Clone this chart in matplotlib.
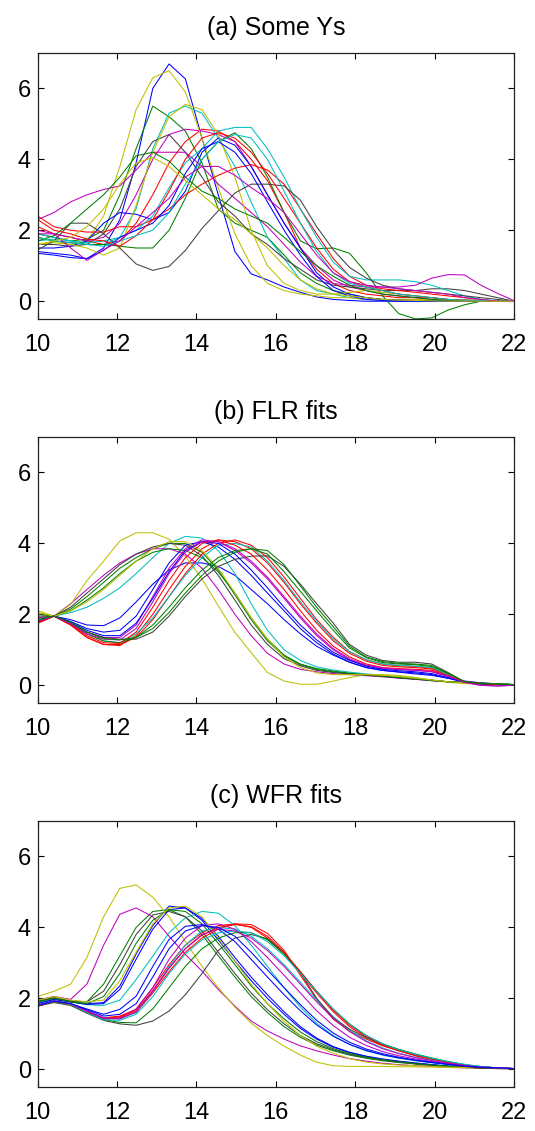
import matplotlib
matplotlib.use("Agg")
import matplotlib.pyplot as plt

plt.rcParams['font.family'] = ['Liberation Sans', 'DejaVu Sans']

# common age grid (30 points between 10 and 22)
ages = [10.0, 10.41, 10.83, 11.24, 11.66, 12.07, 12.48, 12.9, 13.31, 13.72,
        14.14, 14.55, 14.97, 15.38, 15.79, 16.21, 16.62, 17.03, 17.45, 17.86,
        18.28, 18.69, 19.1, 19.52, 19.93, 20.34, 20.76, 21.17, 21.59, 22.0]

titles = ["(a) Some Ys", "(b) FLR fits", "(c) WFR fits"]

# MATLAB-ish colour codes
B, G, R, C, M, Y, K = "#0000ff", "#008000", "#ff0000", "#00bfbf", "#bf00bf", "#bfbf00", "#404040"

# ---- (a) raw curves
a_y1 = [1.8, 1.7, 1.6, 1.7, 2.4, 3.8, 5.4, 6.3, 6.5, 5.9,
        4.6, 3.2, 1.9, 1.0, 0.5, 0.3, 0.2, 0.15, 0.1, 0.1,
        0.05, 0.05, 0.05, 0.05, 0.05, 0.05, 0.03, 0.02, 0.01, 0.0]
a_b1 = [1.4, 1.35, 1.3, 1.2, 1.5, 2.3, 3.9, 6.0, 6.69, 6.27,
        4.6, 3.0, 1.4, 0.77, 0.6, 0.4, 0.25, 0.12, 0.05, 0.02,
        0.0, 0.0, 0.0, 0.0, 0.0, 0.0, 0.0, 0.0, 0.0, 0.0]
a_g1 = [1.9, 1.8, 1.7, 1.75, 2.0, 3.0, 4.3, 5.5, 5.2, 4.8,
        3.9, 2.6, 2.2, 2.0, 1.8, 1.3, 0.8, 0.5, 0.3, 0.2,
        0.1, 0.05, 0.03, 0.02, 0.01, 0.0, 0.0, 0.0, 0.0, 0.0]
a_c1 = [1.7, 1.75, 1.7, 1.6, 1.6, 1.8, 2.6, 4.3, 5.3, 5.5,
        5.3, 4.6, 3.8, 2.8, 1.8, 1.2, 0.6, 0.3, 0.2, 0.1,
        0.05, 0.03, 0.02, 0.01, 0.0, 0.0, 0.0, 0.0, 0.0, 0.0]
a_y2 = [1.6, 1.65, 1.6, 1.5, 1.3, 1.5, 2.7, 4.2, 5.2, 5.55,
        5.4, 4.7, 3.5, 2.0, 1.0, 0.5, 0.3, 0.2, 0.2, 0.25,
        0.3, 0.25, 0.2, 0.15, 0.1, 0.05, 0.03, 0.02, 0.01, 0.0]
a_c2 = [1.9, 1.8, 1.7, 1.65, 1.7, 1.8, 2.0, 2.4, 3.2, 3.9,
        4.3, 4.8, 4.9, 4.9, 4.3, 3.5, 2.6, 1.8, 1.1, 0.7,
        0.6, 0.6, 0.6, 0.55, 0.45, 0.3, 0.15, 0.05, 0.0, 0.0]
a_g2 = [1.8, 1.7, 1.65, 1.6, 1.6, 1.55, 1.5, 1.5, 2.0, 2.9,
        4.0, 4.5, 4.75, 4.3, 3.5, 2.5, 1.7, 1.48, 1.5, 1.35,
        0.8, 0.15, -0.35, -0.5, -0.47, -0.25, -0.1, 0.0, 0.0, 0.0]
a_r1 = [2.1, 1.9, 1.8, 1.7, 1.6, 1.7, 2.2, 3.0, 3.9, 4.5,
        4.85, 4.8, 4.5, 4.0, 3.4, 2.5, 1.5, 0.9, 0.5, 0.3,
        0.2, 0.15, 0.1, 0.1, 0.1, 0.05, 0.02, 0.0, 0.0, 0.0]
a_m1 = [2.0, 1.9, 1.8, 1.7, 1.8, 2.2, 3.0, 4.0, 4.7, 4.85,
        4.8, 4.7, 4.5, 3.8, 3.0, 2.2, 1.5, 1.0, 0.6, 0.4,
        0.3, 0.2, 0.15, 0.1, 0.05, 0.03, 0.02, 0.01, 0.0, 0.0]
a_k1 = [1.6, 1.6, 1.55, 1.6, 1.9, 2.6, 3.8, 4.5, 4.7, 4.2,
        3.5, 2.8, 2.4, 1.9, 1.6, 1.2, 0.9, 0.6, 0.45, 0.4,
        0.35, 0.3, 0.3, 0.3, 0.35, 0.35, 0.3, 0.2, 0.1, 0.0]
a_b2 = [1.5, 1.5, 1.55, 1.7, 2.2, 2.5, 2.45, 2.3, 2.5, 3.1,
        4.2, 4.6, 4.4, 3.8, 3.0, 2.2, 1.5, 0.8, 0.4, 0.2,
        0.1, 0.05, 0.03, 0.02, 0.01, 0.0, 0.0, 0.0, 0.0, 0.0]
a_m2 = [2.3, 2.5, 2.8, 3.0, 3.15, 3.25, 3.7, 4.2, 4.2, 4.2,
        3.8, 3.3, 2.9, 2.5, 2.1, 1.6, 1.1, 0.7, 0.5, 0.45,
        0.4, 0.4, 0.4, 0.45, 0.65, 0.75, 0.74, 0.45, 0.22, 0.02]
a_g3 = [1.7, 1.85, 2.2, 2.6, 3.0, 3.5, 4.1, 4.2, 3.95, 3.5,
        3.1, 2.9, 2.6, 2.4, 2.2, 1.8, 1.4, 1.0, 0.7, 0.45,
        0.3, 0.2, 0.15, 0.1, 0.05, 0.03, 0.02, 0.01, 0.0, 0.0]
a_y3 = [1.6, 1.7, 1.8, 2.1, 2.6, 3.3, 3.9, 4.05, 3.8, 3.4,
        3.0, 2.6, 2.3, 1.9, 1.5, 1.0, 0.6, 0.35, 0.2, 0.15,
        0.1, 0.05, 0.03, 0.02, 0.01, 0.0, 0.0, 0.0, 0.0, 0.0]
a_r2 = [2.4, 2.1, 2.0, 1.95, 1.95, 2.1, 2.1, 2.3, 2.6, 3.0,
        3.3, 3.55, 3.75, 3.85, 3.7, 3.3, 2.6, 1.9, 1.2, 0.7,
        0.45, 0.35, 0.3, 0.25, 0.2, 0.15, 0.1, 0.05, 0.0, 0.0]
a_k2 = [1.45, 1.7, 2.2, 2.2, 1.9, 1.5, 1.05, 0.87, 0.98, 1.43,
        2.05, 2.55, 3.05, 3.3, 3.3, 3.25, 2.85, 2.1, 1.45, 0.95,
        0.65, 0.45, 0.35, 0.3, 0.25, 0.2, 0.15, 0.1, 0.05, 0.0]
a_m3 = [1.9, 1.9, 1.5, 1.15, 1.45, 1.7, 2.1, 2.5, 2.9, 3.5,
        3.8, 3.8, 3.55, 3.2, 2.9, 2.5, 1.9, 1.3, 0.8, 0.55,
        0.45, 0.4, 0.35, 0.3, 0.25, 0.2, 0.1, 0.05, 0.0, 0.0]
a_r3 = [2.3, 2.0, 1.9, 1.75, 1.7, 1.55, 1.85, 2.3, 3.1, 4.0,
        4.6, 4.75, 4.6, 4.2, 3.6, 2.9, 2.2, 1.5, 0.9, 0.55,
        0.4, 0.3, 0.2, 0.15, 0.1, 0.05, 0.03, 0.02, 0.0, 0.0]
a_b3 = [1.35, 1.3, 1.23, 1.2, 1.43, 1.8, 2.0, 2.2, 2.7, 3.6,
        4.3, 4.5, 4.2, 3.6, 2.8, 2.0, 1.3, 0.7, 0.3, 0.15,
        0.05, 0.02, 0.0, 0.0, 0.0, 0.0, 0.0, 0.0, 0.0, 0.0]
a_c3 = [1.8, 1.7, 1.65, 1.6, 1.55, 1.7, 1.85, 2.0, 2.5, 3.3,
        4.0, 4.5, 4.7, 4.6, 4.0, 3.1, 2.2, 1.4, 0.8, 0.5,
        0.4, 0.3, 0.2, 0.15, 0.1, 0.05, 0.03, 0.02, 0.01, 0.0]

# ---- (b) FLR fits
b_y1 = [2.1, 1.95, 2.28, 2.95, 3.5, 4.07, 4.3, 4.3, 4.12, 3.64,
        3.0, 2.24, 1.49, 0.92, 0.36, 0.12, 0.03, 0.03, 0.12, 0.22,
        0.3, 0.3, 0.28, 0.22, 0.15, 0.08, 0.05, 0.04, 0.02, 0.0]
b_y2 = [2.05, 1.95, 2.1, 2.35, 2.7, 3.1, 3.5, 3.85, 4.05, 4.05,
        3.8, 3.3, 2.6, 1.9, 1.3, 0.8, 0.5, 0.35, 0.3, 0.3,
        0.3, 0.28, 0.25, 0.2, 0.15, 0.1, 0.07, 0.05, 0.03, 0.02]
b_m1 = [1.9, 1.95, 2.3, 2.7, 3.1, 3.45, 3.7, 3.85, 3.85, 3.7,
        3.3, 2.7, 2.0, 1.4, 0.9, 0.6, 0.45, 0.38, 0.33, 0.3,
        0.27, 0.24, 0.2, 0.17, 0.13, 0.1, 0.07, 0.05, 0.03, 0.02]
b_k1 = [1.95, 1.95, 2.2, 2.6, 3.0, 3.4, 3.7, 3.9, 4.0, 3.95,
        3.65, 3.1, 2.4, 1.7, 1.15, 0.75, 0.55, 0.42, 0.36, 0.32,
        0.28, 0.25, 0.21, 0.17, 0.13, 0.1, 0.08, 0.06, 0.04, 0.02]
b_g1 = [1.9, 1.95, 2.15, 2.5, 2.9, 3.3, 3.6, 3.85, 4.0, 4.0,
        3.75, 3.25, 2.55, 1.85, 1.25, 0.82, 0.58, 0.45, 0.38, 0.33,
        0.29, 0.26, 0.22, 0.18, 0.14, 0.1, 0.08, 0.06, 0.04, 0.02]
b_g2 = [2.0, 1.95, 2.1, 2.4, 2.75, 3.15, 3.5, 3.75, 3.85, 3.8,
        3.6, 3.2, 2.6, 1.9, 1.3, 0.85, 0.6, 0.47, 0.4, 0.34,
        0.3, 0.26, 0.22, 0.18, 0.14, 0.1, 0.08, 0.06, 0.04, 0.02]
b_c1 = [1.85, 1.95, 2.05, 2.2, 2.45, 2.75, 3.15, 3.6, 4.0, 4.2,
        4.15, 3.8, 3.15, 2.3, 1.55, 1.0, 0.7, 0.52, 0.43, 0.37,
        0.32, 0.28, 0.24, 0.2, 0.15, 0.1, 0.08, 0.06, 0.04, 0.02]
b_b1 = [1.8, 1.95, 1.85, 1.7, 1.68, 1.9, 2.35, 2.85, 3.25, 3.45,
        3.45, 3.35, 3.1, 2.7, 2.3, 1.85, 1.45, 1.1, 0.85, 0.65,
        0.5, 0.42, 0.37, 0.32, 0.28, 0.2, 0.12, 0.07, 0.04, 0.02]
b_b2 = [1.8, 1.95, 1.8, 1.6, 1.5, 1.55, 1.95, 2.7, 3.45, 3.95,
        4.05, 3.9, 3.55, 3.1, 2.6, 2.1, 1.6, 1.2, 0.88, 0.65,
        0.5, 0.42, 0.38, 0.35, 0.3, 0.2, 0.08, 0.04, 0.02, 0.0]
b_b3 = [1.8, 1.95, 1.78, 1.55, 1.4, 1.4, 1.75, 2.45, 3.2, 3.8,
        4.05, 4.0, 3.7, 3.25, 2.75, 2.2, 1.7, 1.28, 0.93, 0.7,
        0.54, 0.45, 0.41, 0.38, 0.33, 0.22, 0.09, 0.04, 0.02, 0.0]
b_m2 = [1.8, 1.95, 1.75, 1.5, 1.35, 1.35, 1.7, 2.5, 3.3, 3.85,
        4.1, 4.05, 3.8, 3.45, 3.0, 2.45, 1.9, 1.4, 1.0, 0.72,
        0.55, 0.47, 0.44, 0.42, 0.38, 0.25, 0.08, 0.0, -0.02, 0.0]
b_m3 = [1.8, 1.95, 1.73, 1.45, 1.3, 1.28, 1.6, 2.35, 3.15, 3.75,
        4.05, 4.05, 3.85, 3.5, 3.05, 2.5, 1.95, 1.45, 1.03, 0.75,
        0.57, 0.49, 0.45, 0.43, 0.39, 0.26, 0.08, 0.0, -0.02, 0.0]
b_r1 = [1.75, 1.95, 1.7, 1.35, 1.15, 1.12, 1.4, 2.0, 2.7, 3.35,
        3.85, 4.1, 4.05, 3.85, 3.45, 2.9, 2.3, 1.75, 1.25, 0.9,
        0.68, 0.56, 0.52, 0.5, 0.46, 0.28, 0.1, 0.05, 0.02, 0.02]
b_r2 = [1.75, 1.95, 1.7, 1.35, 1.15, 1.15, 1.35, 1.85, 2.5, 3.15,
        3.7, 4.0, 4.1, 3.95, 3.6, 3.05, 2.45, 1.85, 1.35, 0.95,
        0.72, 0.6, 0.55, 0.53, 0.48, 0.3, 0.1, 0.05, 0.02, 0.02]
b_r3 = [1.78, 1.95, 1.72, 1.4, 1.2, 1.18, 1.5, 2.2, 2.95, 3.6,
        4.0, 4.1, 3.95, 3.7, 3.25, 2.7, 2.1, 1.55, 1.1, 0.8,
        0.6, 0.5, 0.47, 0.45, 0.42, 0.27, 0.1, 0.05, 0.02, 0.02]
b_c2 = [1.85, 1.95, 1.75, 1.45, 1.25, 1.2, 1.45, 1.9, 2.5, 3.1,
        3.6, 3.95, 4.0, 3.9, 3.5, 2.95, 2.35, 1.8, 1.3, 0.95,
        0.72, 0.6, 0.56, 0.54, 0.5, 0.3, 0.1, 0.05, 0.03, 0.02]
b_g3 = [1.8, 1.95, 1.75, 1.45, 1.25, 1.2, 1.35, 1.7, 2.2, 2.75,
        3.25, 3.6, 3.8, 3.85, 3.7, 3.2, 2.65, 2.1, 1.55, 1.05,
        0.78, 0.64, 0.6, 0.58, 0.53, 0.33, 0.1, 0.05, 0.03, 0.02]
b_g4 = [1.85, 1.95, 1.78, 1.5, 1.32, 1.28, 1.35, 1.6, 2.05, 2.6,
        3.1, 3.5, 3.75, 3.85, 3.8, 3.4, 2.8, 2.2, 1.65, 1.1,
        0.8, 0.67, 0.62, 0.6, 0.56, 0.34, 0.1, 0.05, 0.03, 0.02]
b_k2 = [1.8, 1.95, 1.75, 1.5, 1.35, 1.3, 1.3, 1.5, 1.95, 2.5,
        3.0, 3.35, 3.55, 3.64, 3.65, 3.35, 2.85, 2.3, 1.75, 1.15,
        0.85, 0.7, 0.65, 0.65, 0.6, 0.36, 0.1, 0.05, 0.03, 0.02]

# ---- (c) WFR fits
c_y1 = [2.05, 2.2, 2.4, 3.15, 4.3, 5.1, 5.2, 4.85, 4.3, 3.6,
        2.9, 2.3, 1.75, 1.3, 0.95, 0.65, 0.4, 0.2, 0.1, 0.08,
        0.08, 0.08, 0.07, 0.07, 0.06, 0.05, 0.04, 0.03, 0.02, 0.02]
c_m1 = [1.95, 2.05, 1.97, 2.4, 3.5, 4.37, 4.55, 4.3, 3.75, 3.24,
        2.77, 2.25, 1.78, 1.36, 1.08, 0.85, 0.66, 0.52, 0.4, 0.3,
        0.23, 0.17, 0.13, 0.1, 0.08, 0.06, 0.04, 0.03, 0.02, 0.02]
c_g1 = [1.9, 2.0, 1.92, 1.9, 2.4, 3.2, 4.0, 4.45, 4.5, 4.3,
        3.8, 3.2, 2.6, 2.05, 1.6, 1.2, 0.9, 0.68, 0.52, 0.4,
        0.31, 0.24, 0.19, 0.15, 0.11, 0.08, 0.06, 0.04, 0.03, 0.02]
c_k1 = [1.92, 2.02, 1.93, 1.9, 2.2, 2.95, 3.8, 4.35, 4.45, 4.3,
        3.9, 3.3, 2.7, 2.15, 1.68, 1.28, 0.95, 0.72, 0.55, 0.42,
        0.33, 0.26, 0.2, 0.15, 0.11, 0.08, 0.06, 0.04, 0.03, 0.02]
c_g2 = [1.9, 2.0, 1.9, 1.85, 2.05, 2.7, 3.55, 4.2, 4.5, 4.45,
        4.1, 3.55, 2.95, 2.35, 1.85, 1.42, 1.05, 0.78, 0.58, 0.44,
        0.34, 0.27, 0.21, 0.16, 0.12, 0.09, 0.06, 0.04, 0.03, 0.02]
c_y2 = [1.95, 2.05, 1.95, 1.9, 1.95, 2.5, 3.3, 4.1, 4.55, 4.6,
        4.3, 3.7, 3.05, 2.4, 1.85, 1.35, 0.95, 0.65, 0.45, 0.3,
        0.2, 0.15, 0.12, 0.1, 0.08, 0.06, 0.05, 0.04, 0.03, 0.02]
c_b1 = [1.85, 1.97, 1.9, 1.85, 1.88, 2.35, 3.25, 4.05, 4.6, 4.55,
        4.2, 3.65, 3.05, 2.5, 2.0, 1.55, 1.15, 0.85, 0.62, 0.47,
        0.36, 0.28, 0.22, 0.17, 0.13, 0.09, 0.06, 0.04, 0.03, 0.02]
c_b2 = [1.85, 1.97, 1.9, 1.83, 1.85, 2.25, 3.1, 3.95, 4.5, 4.55,
        4.25, 3.75, 3.15, 2.6, 2.1, 1.62, 1.2, 0.88, 0.64, 0.48,
        0.37, 0.29, 0.23, 0.18, 0.13, 0.09, 0.06, 0.04, 0.03, 0.02]
c_c1 = [1.88, 1.98, 1.9, 1.82, 1.8, 1.95, 2.53, 3.19, 3.85, 4.27,
        4.45, 4.4, 4.05, 3.5, 2.9, 2.3, 1.75, 1.3, 0.95, 0.7,
        0.52, 0.4, 0.31, 0.24, 0.18, 0.13, 0.09, 0.06, 0.04, 0.02]
c_b3 = [1.8, 1.92, 1.85, 1.7, 1.55, 1.69, 2.06, 2.9, 3.66, 4.03,
        4.08, 3.95, 3.6, 3.1, 2.6, 2.1, 1.65, 1.25, 0.93, 0.7,
        0.53, 0.41, 0.32, 0.25, 0.19, 0.14, 0.09, 0.06, 0.04, 0.02]
c_b4 = [1.8, 1.92, 1.85, 1.68, 1.5, 1.55, 1.85, 2.6, 3.4, 3.9,
        4.05, 4.0, 3.75, 3.3, 2.8, 2.3, 1.82, 1.38, 1.02, 0.76,
        0.57, 0.44, 0.34, 0.26, 0.2, 0.14, 0.09, 0.06, 0.04, 0.02]
c_m2 = [1.8, 1.93, 1.85, 1.65, 1.45, 1.45, 1.7, 2.3, 3.1, 3.7,
        4.05, 4.1, 3.95, 3.6, 3.15, 2.65, 2.15, 1.65, 1.23, 0.9,
        0.67, 0.5, 0.38, 0.29, 0.22, 0.16, 0.1, 0.06, 0.04, 0.02]
c_c2 = [1.82, 1.93, 1.85, 1.65, 1.45, 1.42, 1.6, 2.2, 2.9, 3.5,
        3.9, 4.0, 3.95, 3.75, 3.4, 2.95, 2.45, 1.95, 1.48, 1.1,
        0.8, 0.6, 0.45, 0.34, 0.25, 0.18, 0.11, 0.07, 0.04, 0.02]
c_r1 = [1.78, 1.92, 1.84, 1.62, 1.45, 1.5, 1.69, 2.3, 2.95, 3.5,
        3.85, 4.05, 4.1, 4.0, 3.7, 3.25, 2.7, 2.15, 1.62, 1.2,
        0.9, 0.68, 0.52, 0.39, 0.29, 0.2, 0.12, 0.07, 0.04, 0.02]
c_r2 = [1.78, 1.92, 1.84, 1.62, 1.42, 1.45, 1.6, 2.15, 2.75, 3.3,
        3.7, 3.95, 4.1, 4.08, 3.83, 3.35, 2.65, 1.97, 1.41, 1.08,
        0.85, 0.66, 0.52, 0.38, 0.27, 0.15, 0.07, 0.03, 0.02, 0.02]
c_r3 = [1.78, 1.92, 1.84, 1.62, 1.43, 1.48, 1.65, 2.22, 2.85, 3.4,
        3.78, 4.0, 4.08, 4.02, 3.75, 3.3, 2.75, 2.2, 1.67, 1.25,
        0.93, 0.7, 0.53, 0.4, 0.3, 0.2, 0.12, 0.07, 0.04, 0.02]
c_c3 = [1.8, 1.92, 1.84, 1.6, 1.4, 1.38, 1.55, 2.05, 2.7, 3.25,
        3.65, 3.85, 3.9, 3.85, 3.6, 3.2, 2.7, 2.2, 1.7, 1.28,
        0.95, 0.72, 0.55, 0.42, 0.31, 0.22, 0.14, 0.08, 0.04, 0.02]
c_m3 = [1.8, 1.93, 1.85, 1.63, 1.43, 1.42, 1.62, 2.2, 2.85, 3.4,
        3.8, 3.95, 3.9, 3.7, 3.35, 2.9, 2.4, 1.9, 1.43, 1.06,
        0.78, 0.58, 0.44, 0.33, 0.24, 0.17, 0.11, 0.06, 0.04, 0.02]
c_g3 = [1.8, 1.9, 1.83, 1.6, 1.4, 1.32, 1.31, 1.7, 2.3, 2.9,
        3.4, 3.7, 3.85, 3.85, 3.65, 3.25, 2.75, 2.2, 1.68, 1.27,
        0.95, 0.72, 0.56, 0.43, 0.32, 0.22, 0.13, 0.07, 0.04, 0.02]
c_k2 = [1.78, 1.88, 1.8, 1.58, 1.38, 1.28, 1.24, 1.36, 1.64, 2.1,
        2.7, 3.35, 3.7, 3.8, 3.68, 3.3, 2.72, 2.0, 1.45, 1.13,
        0.89, 0.7, 0.56, 0.42, 0.3, 0.19, 0.08, 0.03, 0.02, 0.01]

panel_a = [(a_b1, B), (a_g1, G), (a_r1, R), (a_c1, C), (a_m1, M), (a_y1, Y), (a_k1, K),
           (a_b2, B), (a_g2, G), (a_r2, R), (a_c2, C), (a_m2, M), (a_y2, Y), (a_k2, K),
           (a_b3, B), (a_g3, G), (a_r3, R), (a_c3, C), (a_m3, M), (a_y3, Y)]
panel_b = [(b_b1, B), (b_g1, G), (b_r1, R), (b_c1, C), (b_m1, M), (b_y1, Y), (b_k1, K),
           (b_b2, B), (b_g2, G), (b_r2, R), (b_c2, C), (b_m2, M), (b_y2, Y), (b_k2, K),
           (b_b3, B), (b_g3, G), (b_r3, R), (b_m3, M), (b_g4, G)]
panel_c = [(c_b1, B), (c_g1, G), (c_r1, R), (c_c1, C), (c_m1, M), (c_y1, Y), (c_k1, K),
           (c_b2, B), (c_g2, G), (c_r2, R), (c_c2, C), (c_m2, M), (c_y2, Y), (c_k2, K),
           (c_b3, B), (c_g3, G), (c_r3, R), (c_c3, C), (c_m3, M), (c_b4, B)]

fig = plt.figure(figsize=(5.35, 11.31), dpi=100)
bottoms = [0.7180, 0.3784, 0.0389]

for title, curves, bot in zip(titles, [panel_a, panel_b, panel_c], bottoms):
    ax = fig.add_axes([0.0705, bot, 0.890, 0.2352])
    for vals, col in curves:
        ax.plot(ages, vals, color=col, lw=0.75)
    ax.set_xlim(10, 22)
    ax.set_ylim(-0.5, 7)
    ax.set_xticks([10, 12, 14, 16, 18, 20, 22])
    ax.set_yticks([0, 2, 4, 6])
    ax.tick_params(direction='in', top=True, right=True, length=4, width=0.8,
                   labelsize=17)
    ax.tick_params(axis='x', pad=11)
    ax.tick_params(axis='y', pad=5)
    for sp in ax.spines.values():
        sp.set_linewidth(0.9)
        sp.set_color('#202020')
    ax.set_title(title, fontsize=18, pad=13)

fig.savefig("out.png", dpi=100)
